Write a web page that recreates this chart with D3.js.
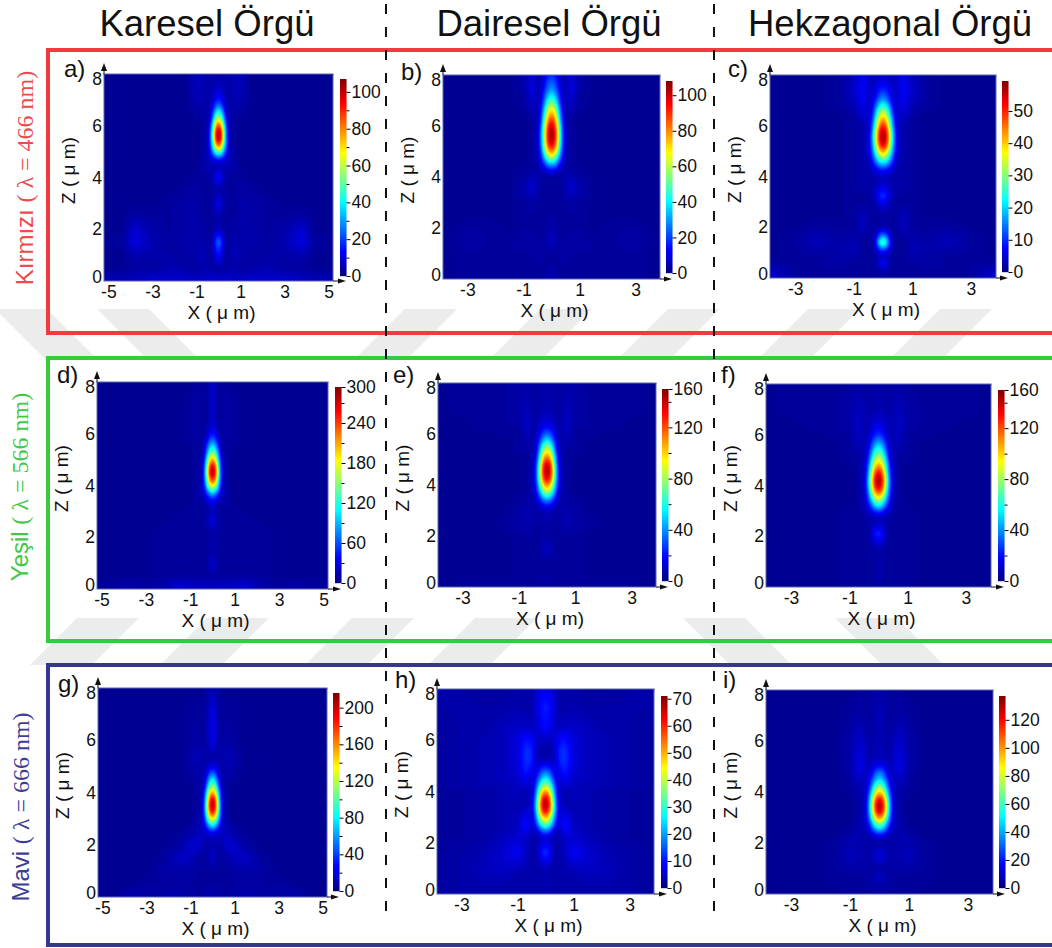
<!DOCTYPE html>
<html>
<head>
<meta charset="utf-8">
<title>Karesel, Dairesel, Hekzagonal Orgu</title>
<script src="https://cdn.jsdelivr.net/npm/d3@7"></script>
<style>
	html, body { margin: 0; padding: 0; background: #fff; overflow: hidden; }
	text { font-family: "Liberation Sans", Arial, sans-serif; fill: #111; }
	.axis .tick text { font-size: 17.5px; }
	.axis path.domain { display: none; }
</style>
</head>
<body>
<div id="chart"></div>
<script>
////////////////////////////////////////////////////////////////////////////////
// Data.
var columnTitles = ['Karesel Örgü', 'Dairesel Örgü', 'Hekzagonal Örgü'];
var panelLetters = ['a)', 'b)', 'c)', 'd)', 'e)', 'f)', 'g)', 'h)', 'i)'];

var zTicks = [0, 2, 4, 6, 8];
var xTicksWide = [-5, -3, -1, 1, 3, 5];
var xTicksNarrow = [-3, -1, 1, 3];

// Top of each colour bar, in the units of its ticks.
var colorMax = [107, 108, 59.3, 294, 150, 150, 216, 71, 137];
var colorMajor = [
	[0, 20, 40, 60, 80, 100],
	[0, 20, 40, 60, 80, 100],
	[0, 10, 20, 30, 40, 50],
	[0, 60, 120, 180, 240, 300],
	[0, 40, 80, 120, 160],
	[0, 40, 80, 120, 160],
	[0, 40, 80, 120, 160, 200],
	[0, 10, 20, 30, 40, 50, 60, 70],
	[0, 20, 40, 60, 80, 100, 120]
];
var colorMinor = [
	[10, 30, 50, 70, 90],
	[],
	[],
	[30, 90, 150, 210, 270],
	[20, 60, 100, 140],
	[20, 60, 100, 140],
	[20, 60, 100, 140, 180],
	[],
	[]
];

// |X| in micrometres for the columns of every field below (fields are mirrored about X=0).
var xCols = [0, .12, .25, .38, .5, .7, 1, 1.5, 2.2, 3, 3.8, 4.4];

// Intensity as percent of the colour bar top. One row per Z value.
var zRowsA = [8, 7.5, 7, 6.75, 6.5, 6.25, 6, 5.75, 5.5, 5.25, 5, 4.75, 4.5, 4, 3.5, 3, 2.5, 2, 1.5, 1, .5, .15, 0];
var fieldA = [
	[4, 4, 4, 4, 4, 5, 6, 2, 2, 2, 2, 2],
	[6, 6, 5, 4, 4, 5, 6, 2, 2, 2, 2, 2],
	[15, 13, 7, 4, 4, 5, 5, 2, 2, 2, 2, 2],
	[26, 22, 11, 5, 4, 4, 4, 2, 2, 2, 2, 2],
	[44, 36, 17, 6, 4, 4, 3, 2, 2, 2, 2, 2],
	[62, 52, 27, 8, 4, 3, 3, 2, 2, 2, 2, 2],
	[86, 72, 38, 12, 4, 3, 2, 2, 2, 2, 2, 2],
	[100, 86, 46, 15, 4, 3, 2, 2, 2, 2, 2, 2],
	[100, 86, 46, 16, 5, 3, 2, 2, 2, 2, 2, 2],
	[80, 70, 38, 15, 5, 3, 2, 2, 2, 2, 2, 2],
	[50, 44, 26, 12, 5, 3, 2, 2, 2, 2, 2, 2],
	[18, 16, 12, 8, 5, 4, 2, 2, 2, 2, 2, 2],
	[4, 4, 5, 6, 5, 4, 2, 2, 2, 2, 2, 2],
	[13, 11, 5, 3, 3, 3, 3, 2, 2, 2, 2, 2],
	[4, 3, 3, 3, 3, 3, 4, 3, 2, 2, 2, 2],
	[12, 9, 4, 3, 3, 3, 4, 4, 3, 2, 2, 2],
	[4, 4, 3, 3, 3, 3, 4, 4, 3, 3, 4, 2],
	[6, 5, 3, 3, 3, 4, 4, 4, 3, 4, 8, 2],
	[24, 19, 6, 3, 3, 5, 4, 5, 3, 5, 10, 3],
	[13, 11, 4, 3, 4, 6, 5, 3, 4, 4, 5, 2],
	[4, 4, 3, 3, 4, 5, 3, 4, 5, 3, 3, 2],
	[6, 7, 7, 8, 7, 6, 6, 7, 7, 7, 6, 5],
	[7, 8, 9, 10, 8, 7, 8, 8, 9, 8, 7, 6]
];

var zRowsB = [8, 7.5, 7.25, 7, 6.75, 6.5, 6.25, 6, 5.75, 5.5, 5.25, 5, 4.75, 4.5, 4.25, 4, 3.5, 3, 2.5, 2, 1.5, 1, .5, 0];
var fieldB = [
	[17, 15, 9, 5, 5, 9, 4, 2, 2, 2, 2, 2],
	[26, 23, 14, 6, 5, 10, 4, 2, 2, 2, 2, 2],
	[34, 30, 18, 7, 5, 9, 3, 2, 2, 2, 2, 2],
	[46, 40, 23, 8, 5, 8, 3, 2, 2, 2, 2, 2],
	[60, 52, 30, 10, 5, 6, 3, 2, 2, 2, 2, 2],
	[72, 64, 37, 13, 4, 4, 2, 2, 2, 2, 2, 2],
	[84, 74, 44, 15, 5, 3, 2, 2, 2, 2, 2, 2],
	[94, 84, 52, 18, 5, 3, 2, 2, 2, 2, 2, 2],
	[100, 88, 56, 21, 6, 3, 2, 2, 2, 2, 2, 2],
	[100, 88, 56, 21, 6, 3, 2, 2, 2, 2, 2, 2],
	[92, 82, 52, 20, 6, 3, 2, 2, 2, 2, 2, 2],
	[76, 68, 43, 17, 5, 3, 2, 2, 2, 2, 2, 2],
	[55, 48, 30, 13, 5, 3, 2, 2, 2, 2, 2, 2],
	[30, 27, 17, 8, 4, 3, 2, 2, 2, 2, 2, 2],
	[12, 10, 7, 5, 4, 3, 3, 2, 2, 2, 2, 2],
	[3, 3, 3, 4, 5, 6, 3, 2, 2, 2, 2, 2],
	[3, 3, 3, 3, 5, 8, 5, 2, 2, 2, 2, 2],
	[3, 3, 3, 3, 3, 4, 3, 2, 2, 2, 2, 2],
	[3, 3, 3, 3, 3, 3, 3, 2, 2, 2, 2, 2],
	[5, 4, 3, 3, 3, 3, 3, 2, 3, 3, 2, 2],
	[7, 6, 3, 3, 3, 4, 4, 3, 3, 4, 2, 2],
	[3, 3, 3, 4, 4, 3, 3, 3, 3, 3, 2, 2],
	[3, 3, 3, 3, 3, 3, 3, 3, 3, 3, 2, 2],
	[6, 5, 3, 3, 3, 3, 3, 3, 3, 3, 2, 2]
];

var zRowsC = [8, 7.5, 7.25, 7, 6.75, 6.5, 6.25, 6, 5.75, 5.5, 5.25, 5, 4.75, 4.5, 4.25, 3.9, 3.5, 3.25, 3, 2.5, 2, 1.75, 1.4, 1.1, .85, .6, .3, 0];
var fieldC = [
	[6, 6, 6, 6, 8, 11, 6, 3, 2, 2, 2, 2],
	[14, 13, 9, 6, 8, 12, 7, 3, 2, 2, 2, 2],
	[20, 18, 11, 7, 8, 12, 7, 3, 2, 2, 2, 2],
	[30, 26, 15, 8, 8, 11, 6, 3, 2, 2, 2, 2],
	[44, 38, 23, 9, 7, 10, 5, 3, 2, 2, 2, 2],
	[60, 52, 30, 11, 7, 8, 4, 2, 2, 2, 2, 2],
	[74, 64, 38, 14, 7, 6, 3, 2, 2, 2, 2, 2],
	[86, 76, 46, 17, 7, 4, 3, 2, 2, 2, 2, 2],
	[98, 86, 54, 21, 7, 4, 3, 2, 2, 2, 2, 2],
	[100, 88, 56, 23, 8, 4, 3, 2, 2, 2, 2, 2],
	[92, 82, 52, 21, 8, 4, 3, 2, 2, 2, 2, 2],
	[74, 66, 42, 18, 7, 4, 3, 2, 2, 2, 2, 2],
	[54, 48, 31, 14, 6, 4, 3, 2, 2, 2, 2, 2],
	[32, 29, 19, 10, 5, 4, 3, 2, 2, 2, 2, 2],
	[14, 12, 9, 6, 4, 4, 3, 2, 2, 2, 2, 2],
	[5, 5, 4, 4, 4, 4, 3, 2, 2, 2, 2, 2],
	[12, 10, 6, 4, 4, 4, 3, 2, 2, 2, 2, 2],
	[18, 15, 8, 4, 3, 3, 3, 2, 2, 2, 2, 2],
	[12, 10, 5, 3, 3, 3, 3, 2, 2, 2, 2, 2],
	[3, 3, 3, 3, 4, 6, 3, 2, 2, 2, 2, 2],
	[5, 4, 3, 3, 4, 7, 3, 3, 3, 2, 2, 2],
	[20, 16, 6, 3, 3, 4, 4, 3, 5, 3, 2, 2],
	[50, 38, 11, 3, 3, 3, 5, 4, 6, 3, 2, 2],
	[18, 14, 6, 3, 3, 3, 6, 4, 4, 3, 2, 2],
	[5, 5, 3, 3, 3, 3, 4, 4, 3, 3, 2, 2],
	[14, 10, 4, 3, 3, 3, 3, 4, 3, 3, 3, 2],
	[5, 4, 3, 3, 3, 3, 3, 3, 3, 3, 6, 2],
	[3, 3, 3, 3, 3, 3, 3, 3, 3, 3, 9, 2]
];

var zRowsD = [8, 7, 6.5, 6.25, 6, 5.75, 5.5, 5.25, 5, 4.75, 4.5, 4.25, 4, 3.75, 3.5, 3.25, 3, 2.7, 2.2, 1.5, 1, .5, .15, 0];
var fieldD = [
	[7, 6, 3, 3, 3, 3, 2, 2, 2, 2, 2, 2],
	[7, 6, 3, 3, 3, 4, 3, 2, 2, 2, 2, 2],
	[7, 6, 3, 3, 3, 4, 3, 2, 2, 2, 2, 2],
	[9, 8, 4, 3, 3, 4, 3, 2, 2, 2, 2, 2],
	[14, 12, 6, 3, 3, 4, 3, 2, 2, 2, 2, 2],
	[24, 20, 10, 4, 3, 3, 3, 2, 2, 2, 2, 2],
	[38, 32, 17, 5, 3, 3, 2, 2, 2, 2, 2, 2],
	[54, 46, 25, 7, 3, 3, 2, 2, 2, 2, 2, 2],
	[74, 64, 36, 10, 4, 3, 2, 2, 2, 2, 2, 2],
	[94, 82, 46, 13, 4, 3, 2, 2, 2, 2, 2, 2],
	[100, 88, 50, 15, 4, 3, 2, 2, 2, 2, 2, 2],
	[88, 78, 44, 15, 4, 3, 2, 2, 2, 2, 2, 2],
	[66, 58, 34, 13, 5, 3, 2, 2, 2, 2, 2, 2],
	[36, 32, 20, 9, 5, 4, 2, 2, 2, 2, 2, 2],
	[16, 14, 9, 6, 4, 4, 2, 2, 2, 2, 2, 2],
	[7, 7, 5, 3, 3, 3, 2, 2, 2, 2, 2, 2],
	[5, 5, 3, 3, 3, 3, 3, 2, 2, 2, 2, 2],
	[10, 8, 4, 3, 3, 3, 3, 3, 2, 2, 2, 2],
	[4, 4, 3, 3, 3, 3, 3, 3, 3, 2, 2, 2],
	[4, 4, 3, 3, 3, 3, 3, 3, 3, 2, 2, 2],
	[8, 6, 3, 3, 3, 3, 3, 3, 3, 2, 2, 2],
	[4, 4, 3, 3, 3, 3, 3, 3, 3, 2, 2, 2],
	[6, 6, 6, 7, 7, 6, 7, 8, 4, 3, 4, 3],
	[7, 7, 7, 8, 8, 7, 8, 10, 4, 3, 4, 3]
];

var zRowsE = [8, 7, 6.5, 6.25, 6, 5.75, 5.5, 5.25, 5, 4.75, 4.5, 4.25, 4, 3.75, 3.5, 3.25, 3, 2.5, 2, 1.5, 1, .5, 0];
var fieldE = [
	[4, 4, 4, 3, 3, 4, 4, 3, 3, 3, 2, 2],
	[5, 5, 4, 3, 4, 6, 4, 3, 3, 3, 2, 2],
	[8, 8, 6, 4, 4, 7, 4, 3, 3, 2, 2, 2],
	[13, 12, 8, 5, 4, 7, 3, 3, 3, 2, 2, 2],
	[23, 20, 12, 5, 4, 6, 3, 3, 2, 2, 2, 2],
	[36, 31, 17, 7, 4, 5, 3, 2, 2, 2, 2, 2],
	[54, 46, 25, 8, 4, 4, 3, 2, 2, 2, 2, 2],
	[68, 60, 33, 10, 4, 3, 3, 2, 2, 2, 2, 2],
	[84, 74, 42, 13, 5, 3, 2, 2, 2, 2, 2, 2],
	[96, 86, 50, 16, 5, 3, 2, 2, 2, 2, 2, 2],
	[100, 88, 53, 17, 5, 3, 2, 2, 2, 2, 2, 2],
	[92, 82, 50, 17, 5, 3, 2, 2, 2, 2, 2, 2],
	[76, 68, 40, 15, 5, 3, 2, 2, 2, 2, 2, 2],
	[58, 50, 30, 12, 5, 3, 2, 2, 2, 2, 2, 2],
	[34, 30, 18, 8, 4, 4, 3, 2, 2, 2, 2, 2],
	[16, 14, 9, 5, 4, 4, 3, 2, 2, 2, 2, 2],
	[6, 6, 4, 4, 4, 5, 4, 2, 2, 2, 2, 2],
	[4, 4, 3, 3, 4, 5, 4, 3, 2, 2, 2, 2],
	[3, 3, 3, 3, 3, 3, 3, 2, 2, 2, 2, 2],
	[7, 6, 3, 3, 3, 3, 3, 2, 2, 2, 2, 2],
	[3, 3, 3, 3, 3, 3, 3, 2, 2, 2, 2, 2],
	[3, 3, 3, 3, 3, 3, 3, 2, 2, 2, 2, 2],
	[4, 4, 4, 3, 3, 3, 3, 3, 3, 3, 2, 2]
];

var zRowsF = [8, 7, 6.5, 6, 5.75, 5.5, 5.25, 5, 4.75, 4.5, 4.25, 4, 3.75, 3.5, 3.25, 3, 2.75, 2.45, 2.1, 1.75, 1.4, 1, .5, 0];
var fieldF = [
	[4, 4, 4, 3, 4, 4, 3, 3, 3, 3, 2, 2],
	[5, 5, 4, 4, 5, 6, 4, 3, 3, 3, 2, 2],
	[8, 8, 6, 5, 5, 7, 4, 3, 3, 2, 2, 2],
	[17, 15, 9, 5, 5, 7, 3, 3, 2, 2, 2, 2],
	[27, 24, 14, 6, 5, 6, 3, 2, 2, 2, 2, 2],
	[38, 33, 19, 8, 5, 5, 3, 2, 2, 2, 2, 2],
	[50, 44, 26, 9, 5, 4, 3, 2, 2, 2, 2, 2],
	[62, 55, 33, 12, 5, 3, 3, 2, 2, 2, 2, 2],
	[76, 68, 42, 15, 6, 3, 2, 2, 2, 2, 2, 2],
	[90, 80, 50, 18, 6, 3, 2, 2, 2, 2, 2, 2],
	[100, 88, 56, 21, 6, 3, 2, 2, 2, 2, 2, 2],
	[96, 86, 54, 21, 6, 3, 2, 2, 2, 2, 2, 2],
	[82, 74, 46, 18, 6, 3, 2, 2, 2, 2, 2, 2],
	[62, 54, 34, 14, 5, 3, 2, 2, 2, 2, 2, 2],
	[42, 36, 22, 10, 5, 3, 2, 2, 2, 2, 2, 2],
	[20, 17, 11, 6, 4, 3, 3, 2, 2, 2, 2, 2],
	[5, 5, 4, 4, 3, 3, 3, 2, 2, 2, 2, 2],
	[7, 7, 5, 3, 3, 3, 3, 2, 2, 2, 2, 2],
	[17, 14, 6, 3, 3, 3, 3, 2, 2, 2, 2, 2],
	[9, 8, 4, 3, 3, 3, 3, 2, 2, 2, 2, 2],
	[3, 3, 3, 3, 3, 3, 3, 2, 2, 2, 2, 2],
	[5, 4, 3, 3, 3, 3, 3, 2, 2, 2, 2, 2],
	[5, 4, 3, 3, 3, 3, 3, 2, 2, 2, 2, 2],
	[4, 3, 3, 3, 3, 3, 3, 2, 2, 2, 2, 2]
];

var zRowsG = [8, 7, 6, 5.75, 5.35, 5, 4.75, 4.5, 4.25, 4, 3.75, 3.5, 3.25, 3, 2.75, 2.5, 2.25, 1.9, 1.5, 1, .5, 0];
var fieldG = [
	[5, 4, 3, 3, 2, 2, 2, 2, 2, 2, 2, 2],
	[10, 9, 4, 3, 3, 3, 3, 2, 2, 2, 2, 2],
	[10, 9, 4, 3, 3, 4, 3, 2, 2, 2, 2, 2],
	[7, 7, 4, 4, 4, 5, 3, 2, 2, 2, 2, 2],
	[3, 4, 4, 4, 5, 6, 4, 2, 2, 2, 2, 2],
	[9, 9, 6, 4, 4, 5, 4, 2, 2, 2, 2, 2],
	[22, 19, 10, 4, 4, 5, 3, 2, 2, 2, 2, 2],
	[38, 32, 16, 5, 4, 4, 3, 2, 2, 2, 2, 2],
	[54, 46, 24, 7, 4, 3, 2, 2, 2, 2, 2, 2],
	[74, 64, 36, 11, 4, 3, 2, 2, 2, 2, 2, 2],
	[94, 82, 46, 14, 4, 3, 2, 2, 2, 2, 2, 2],
	[100, 88, 50, 16, 4, 3, 2, 2, 2, 2, 2, 2],
	[90, 80, 46, 16, 5, 3, 2, 2, 2, 2, 2, 2],
	[66, 58, 34, 13, 5, 4, 2, 2, 2, 2, 2, 2],
	[38, 33, 20, 9, 6, 5, 3, 2, 2, 2, 2, 2],
	[14, 12, 9, 6, 6, 5, 4, 2, 2, 2, 2, 2],
	[5, 5, 5, 6, 7, 8, 5, 3, 2, 2, 2, 2],
	[5, 5, 4, 4, 5, 8, 8, 4, 2, 2, 2, 2],
	[7, 6, 3, 3, 3, 4, 6, 7, 3, 2, 2, 2],
	[3, 3, 3, 3, 3, 3, 4, 4, 4, 2, 2, 2],
	[3, 3, 3, 3, 3, 3, 3, 3, 3, 3, 2, 2],
	[5, 5, 4, 4, 3, 3, 4, 5, 4, 4, 5, 2]
];

var zRowsH = [8, 7.3, 6.5, 6.1, 5.6, 5.25, 5, 4.75, 4.5, 4.25, 4, 3.75, 3.5, 3.25, 3, 2.75, 2.5, 2.2, 1.6, 1, .5, 0];
var fieldH = [
	[10, 10, 9, 6, 4, 4, 4, 3, 3, 4, 4, 2],
	[15, 14, 11, 7, 4, 4, 5, 4, 4, 4, 4, 2],
	[13, 12, 9, 7, 6, 7, 7, 6, 4, 4, 3, 2],
	[7, 7, 7, 9, 12, 13, 9, 6, 5, 4, 3, 2],
	[4, 4, 5, 9, 16, 17, 9, 6, 5, 4, 3, 2],
	[5, 5, 6, 8, 16, 17, 9, 6, 5, 4, 3, 2],
	[13, 12, 9, 8, 14, 16, 9, 6, 5, 4, 3, 2],
	[25, 22, 14, 8, 11, 15, 8, 6, 5, 4, 3, 2],
	[38, 33, 21, 10, 8, 12, 7, 6, 5, 4, 3, 2],
	[54, 48, 30, 12, 7, 8, 7, 5, 5, 4, 3, 2],
	[74, 66, 41, 15, 7, 5, 6, 5, 4, 3, 3, 2],
	[92, 82, 50, 18, 7, 4, 6, 5, 4, 3, 3, 2],
	[100, 88, 56, 21, 7, 5, 5, 5, 4, 3, 3, 2],
	[92, 82, 52, 20, 8, 8, 5, 5, 4, 3, 3, 2],
	[72, 64, 40, 16, 8, 11, 6, 5, 4, 3, 3, 2],
	[52, 46, 29, 12, 9, 14, 6, 5, 4, 3, 3, 2],
	[26, 23, 14, 7, 6, 13, 7, 5, 4, 3, 3, 2],
	[7, 7, 5, 4, 5, 7, 8, 6, 4, 3, 3, 2],
	[17, 15, 7, 4, 4, 7, 12, 8, 5, 4, 3, 2],
	[6, 5, 4, 4, 4, 5, 6, 7, 6, 4, 3, 2],
	[5, 5, 4, 4, 4, 4, 4, 5, 5, 4, 3, 2],
	[5, 5, 4, 4, 4, 4, 4, 4, 4, 4, 3, 2]
];

var zRowsI = [8, 7, 6, 5.25, 5, 4.75, 4.5, 4.25, 4, 3.75, 3.5, 3.25, 3, 2.75, 2.5, 2.3, 2.05, 1.5, 1, .7, 0];
var fieldI = [
	[4, 4, 3, 3, 3, 3, 2, 2, 2, 2, 2, 2],
	[6, 5, 4, 3, 3, 4, 3, 2, 2, 2, 2, 2],
	[5, 5, 4, 4, 6, 8, 4, 2, 2, 2, 2, 2],
	[6, 6, 5, 5, 8, 10, 4, 2, 2, 2, 2, 2],
	[13, 12, 8, 6, 8, 10, 4, 2, 2, 2, 2, 2],
	[25, 22, 12, 6, 7, 9, 4, 2, 2, 2, 2, 2],
	[34, 30, 18, 8, 6, 7, 3, 2, 2, 2, 2, 2],
	[50, 44, 26, 10, 6, 5, 3, 2, 2, 2, 2, 2],
	[68, 60, 36, 14, 6, 4, 3, 2, 2, 2, 2, 2],
	[88, 78, 48, 18, 6, 4, 2, 2, 2, 2, 2, 2],
	[100, 88, 55, 20, 6, 4, 2, 2, 2, 2, 2, 2],
	[94, 84, 52, 20, 6, 4, 2, 2, 2, 2, 2, 2],
	[76, 68, 42, 17, 6, 4, 2, 2, 2, 2, 2, 2],
	[52, 46, 28, 12, 6, 5, 2, 2, 2, 2, 2, 2],
	[30, 26, 16, 8, 5, 5, 3, 2, 2, 2, 2, 2],
	[12, 10, 7, 5, 4, 5, 4, 2, 2, 2, 2, 2],
	[3, 3, 4, 4, 4, 5, 5, 3, 2, 2, 2, 2],
	[10, 9, 5, 4, 4, 5, 6, 3, 2, 2, 2, 2],
	[3, 3, 3, 4, 4, 4, 4, 3, 2, 2, 2, 2],
	[7, 6, 4, 4, 3, 3, 3, 3, 2, 2, 2, 2],
	[3, 3, 3, 3, 3, 3, 3, 2, 2, 2, 2, 2]
];

var zRowSets = [zRowsA, zRowsB, zRowsC, zRowsD, zRowsE, zRowsF, zRowsG, zRowsH, zRowsI];
var fields = [fieldA, fieldB, fieldC, fieldD, fieldE, fieldF, fieldG, fieldH, fieldI];

////////////////////////////////////////////////////////////////////////////////
// Layout, measured on the picture: plot box, colour bar box, letter position.
var layout = [
	{l: 104, r: 333, t: 74, b: 281, xMax: 5.2,  cl: 340, ct: 79,  cb: 276, lx: 64,  ly: 77},
	{l: 443, r: 660, t: 75, b: 279, xMax: 3.87, cl: 666, ct: 81,  cb: 273, lx: 401, ly: 80},
	{l: 770, r: 996, t: 75, b: 278, xMax: 3.86, cl: 1002, ct: 81, cb: 272, lx: 728, ly: 77},
	{l: 97,  r: 328, t: 382, b: 589, xMax: 5.2, cl: 335, ct: 387, cb: 583, lx: 57,  ly: 383},
	{l: 438, r: 656, t: 383, b: 587, xMax: 3.87, cl: 662, ct: 389, cb: 581, lx: 393, ly: 383},
	{l: 766, r: 991, t: 384, b: 587, xMax: 3.86, cl: 998, ct: 390, cb: 581, lx: 721, ly: 383},
	{l: 98,  r: 327, t: 688, b: 897, xMax: 5.2, cl: 333, ct: 693, cb: 891, lx: 58,  ly: 692},
	{l: 437, r: 654, t: 689, b: 894, xMax: 3.87, cl: 661, ct: 696, cb: 888, lx: 395, ly: 688},
	{l: 766, r: 993, t: 690, b: 894, xMax: 3.85, cl: 999, ct: 696, cb: 888, lx: 723, ly: 688}
];
var frames = [
	{top: 50, bottom: 333, color: '#f4393f'},
	{top: 358, bottom: 641, color: '#38c93c'},
	{top: 665, bottom: 945, color: '#37378f'}
];
var rowLabels = [
	{head: 'Kırmızı ', tail: '( λ = 466 nm)', x: 33, y: 178, color: '#ee4a4f'},
	{head: 'Yeşil ', tail: '( λ = 566 nm)', x: 28, y: 487, color: '#42c846'},
	{head: 'Mavi ', tail: '( λ = 666 nm)', x: 29, y: 807, color: '#3d3d96'}
];
var titleCenters = [207, 549, 890];
var dividers = [386, 714];

// Pale chevron bands of the background: x at the top edge, direction of the lean.
var bandRows = [
	{y0: 309, y1: 358, width: 52, bands: [[-5, 1], [97, 1], [405, -1], [540, -1], [668, -1], [808, -1], [940, -1]]},
	{y0: 618, y1: 665, width: 62, bands: [[77, -1], [207, -1], [352, -1], [475, -1], [683, 1], [835, 1]]}
];

var svg = d3.select('#chart').append('svg')
	.attr('width', 1052)
	.attr('height', 948)
	.style('display', 'block');

// Jet colour map.
var jet = d3.scaleLinear()
	.domain([0, .125, .375, .625, .875, 1])
	.range(['#00007f', '#0000ff', '#00ffff', '#ffff00', '#ff0000', '#7f0000'])
	.clamp(true);

////////////////////////////////////////////////////////////////////////////////
// Background bands, frames, dividers, headings.
bandRows.forEach(function(row){
	row.bands.forEach(function(b){
		var dx = b[1] * (row.y1 - row.y0);
		svg.append('path')
			.attr('fill', '#ececec')
			.attr('d', d3.line()([
				[b[0], row.y0], [b[0] + row.width, row.y0],
				[b[0] + row.width + dx, row.y1], [b[0] + dx, row.y1]
			]) + 'Z');
	});
});

frames.forEach(function(f){
	svg.append('path')
		.attr('fill', 'none')
		.attr('stroke', f.color)
		.attr('stroke-width', 4)
		.attr('d', 'M1060,' + f.top + 'H48V' + f.bottom + 'H1060');
});

dividers.forEach(function(x){
	svg.append('line')
		.attr('x1', x).attr('x2', x)
		.attr('y1', 4).attr('y2', 922)
		.attr('stroke', '#111')
		.attr('stroke-width', 2)
		.attr('stroke-dasharray', '10,13');
});

columnTitles.forEach(function(t, i){
	svg.append('text')
		.attr('x', titleCenters[i])
		.attr('y', 36)
		.attr('text-anchor', 'middle')
		.style('font-size', '36.5px')
		.text(t);
});

rowLabels.forEach(function(r){
	var label = svg.append('text')
		.attr('transform', 'translate(' + r.x + ',' + r.y + ') rotate(-90)')
		.attr('text-anchor', 'middle')
		.style('font-size', '24px')
		.style('fill', r.color);
	label.append('tspan').style('fill', r.color).text(r.head);
	label.append('tspan')
		.style('fill', r.color)
		.style('font-family', '"Liberation Serif", serif')
		.text(r.tail);
});

////////////////////////////////////////////////////////////////////////////////
// Draw one panel: field through d3.contours, axes, colour bar, arrows.
function draw_panel(i){
	var box = layout[i],
		w = box.r - box.l,
		h = box.b - box.t,
		vmax = colorMax[i],
		zRows = zRowSets[i],
		field = fields[i];

	var xScale = d3.scaleLinear().domain([-box.xMax, box.xMax]).range([box.l, box.r]);
	var zScale = d3.scaleLinear().domain([0, 8]).range([box.b, box.t]);
	var barScale = d3.scaleLinear().domain([0, vmax]).range([box.cb, box.ct]).clamp(true);

	// Fill a pixel raster from the table, then soften the creases between table cells.
	var rowScales = field.map(function(row){
		return d3.scaleLinear().domain(xCols).range(row).clamp(true);
	});
	var values = new Float64Array(w * h);
	for (var px = 0; px < w; px++){
		var ax = Math.abs(xScale.invert(box.l + px + .5));
		var column = d3.scaleLinear()
			.domain(zRows)
			.range(rowScales.map(function(s){ return s(ax); }))
			.clamp(true);
		for (var py = 0; py < h; py++){
			values[py * w + px] = column(zScale.invert(box.t + py + .5)) * vmax / 100;
		}
	}
	d3.blur2({data: values, width: w, height: h}, .7, 1.2);

	var levels = d3.range(0, 128).map(function(k){ return k / 128 * vmax; });
	var contours = d3.contours().size([w, h]).thresholds(levels)(values);

	var plot = svg.append('g')
		.attr('transform', 'translate(' + box.l + ',' + box.t + ')');
	plot.append('rect')
		.attr('width', w)
		.attr('height', h)
		.attr('fill', jet(0));
	plot.selectAll('path')
		.data(contours)
		.enter()
		.append('path')
		.attr('d', d3.geoPath())
		.attr('fill', function(d){ return jet((d.value + vmax / 256) / vmax); });
	plot.append('rect')
		.attr('width', w)
		.attr('height', h)
		.attr('fill', 'none')
		.attr('stroke', '#5f67a8')
		.attr('stroke-width', 1);

	// Axes. The end labels of Z sit a little inside the box in the original.
	var xAxis = svg.append('g')
		.attr('class', 'axis')
		.attr('transform', 'translate(0,' + box.b + ')')
		.call(d3.axisBottom(xScale)
			.tickValues(i % 3 == 0 ? xTicksWide : xTicksNarrow)
			.tickFormat(d3.format('d'))
			.tickSize(0)
			.tickPadding(5));
	xAxis.selectAll('text').text(function(d){ return String(d); });

	var zAxis = svg.append('g')
		.attr('class', 'axis')
		.attr('transform', 'translate(' + box.l + ',0)')
		.call(d3.axisLeft(zScale).tickValues(zTicks).tickSize(0).tickPadding(2));
	zAxis.selectAll('.tick text')
		.attr('dy', function(d){
			return d == 8 ? '.62em' : (d == 0 ? '.1em' : '.32em');
		});

	svg.append('text')
		.attr('x', (box.l + box.r) / 2 + 3)
		.attr('y', box.b + 38)
		.attr('text-anchor', 'middle')
		.style('font-size', '19px')
		.text('X ( μ m)');
	svg.append('text')
		.attr('transform', 'translate(' + (box.l - 29) + ',' + ((box.t + box.b) / 2 - 7) + ') rotate(-90)')
		.attr('text-anchor', 'middle')
		.style('font-size', '19px')
		.text('Z ( μ m)');
	svg.append('text')
		.attr('x', box.lx)
		.attr('y', box.ly)
		.style('font-size', '24px')
		.text(panelLetters[i]);

	// Colour bar.
	svg.append('g')
		.selectAll('rect')
		.data(d3.range(box.ct, box.cb))
		.enter()
		.append('rect')
		.attr('x', box.cl)
		.attr('y', function(d){ return d; })
		.attr('width', 6.5)
		.attr('height', 1.2)
		.attr('fill', function(d){ return jet(barScale.invert(d + .5) / vmax); });

	svg.append('g')
		.attr('class', 'axis')
		.attr('transform', 'translate(' + (box.cl + 6.5) + ',0)')
		.call(d3.axisRight(barScale).tickValues(colorMajor[i]).tickFormat(d3.format('d')).tickSize(4).tickPadding(1));
	svg.append('g')
		.attr('class', 'axis')
		.attr('transform', 'translate(' + (box.cl + 6.5) + ',0)')
		.call(d3.axisRight(barScale).tickValues(colorMinor[i]).tickFormat('').tickSize(3));

	// Little arrows at the ends of the axes.
	svg.append('path')
		.attr('fill', '#111')
		.attr('d', d3.line()([[box.l, box.t - 11], [box.l + 3, box.t - 3], [box.l - 3, box.t - 3]]) + 'Z');
	svg.append('path')
		.attr('fill', '#111')
		.attr('d', d3.line()([[box.cl + 6, box.b], [box.cl - 2, box.b - 2.5], [box.cl - 2, box.b + 2.5]]) + 'Z');
	svg.append('line')
		.attr('x1', box.r).attr('x2', box.cl)
		.attr('y1', box.b).attr('y2', box.b)
		.attr('stroke', '#111');
	svg.append('line')
		.attr('x1', box.l).attr('x2', box.l)
		.attr('y1', box.t - 4).attr('y2', box.t)
		.attr('stroke', '#111');
}

d3.range(9).forEach(draw_panel);
</script>
</body>
</html>
